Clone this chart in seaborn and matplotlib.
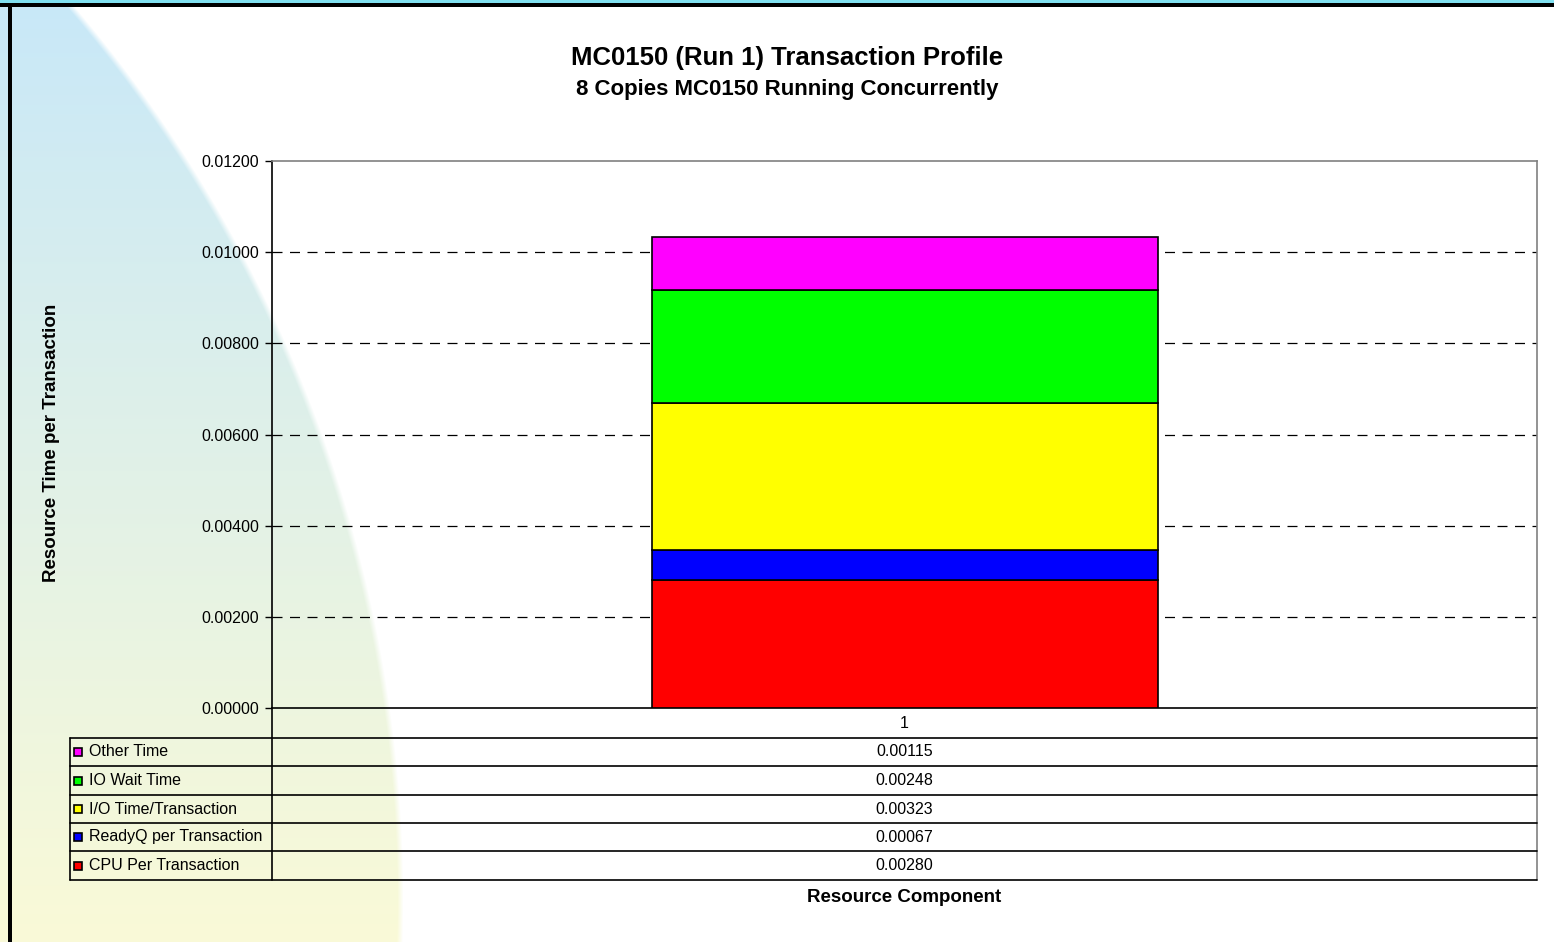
import numpy as np
import pandas as pd
import matplotlib
matplotlib.use("Agg")
import matplotlib.pyplot as plt
from matplotlib.lines import Line2D
from matplotlib.patches import Rectangle
import seaborn as sns

# Data (stack order bottom -> top)
components = ["CPU Per Transaction", "ReadyQ per Transaction", "I/O Time/Transaction",
              "IO Wait Time", "Other Time"]
values = [0.00280, 0.00067, 0.00323, 0.00248, 0.00115]
colors = ["#FF0000", "#0000FF", "#FFFF00", "#00FF00", "#FF00FF"]
category = ["1"]
yticks = [0.0, 0.002, 0.004, 0.006, 0.008, 0.010, 0.012]

W, H = 1554, 942
sns.set_style("white")
plt.rcParams["font.family"] = ["Liberation Sans", "DejaVu Sans"]
plt.rcParams["text.color"] = "black"
plt.rcParams["ytick.color"] = "black"
plt.rcParams["xtick.color"] = "black"

fig = plt.figure(figsize=(W / 100, H / 100), dpi=100)


def fx(x):
    return x / W


def fy(y):
    return 1 - y / H


# background: big soft circle, blue at top fading to pale yellow
bg = fig.add_axes([0, 0, 1, 1], zorder=-10)
yy, xx = np.mgrid[0:H, 0:W]
t = (yy / H)[..., None]
top = np.array([200, 232, 248]) / 255
bot = np.array([250, 250, 215]) / 255
grad = top * (1 - t) + bot * t
dist = np.sqrt((xx + 976) ** 2 + (yy - 900) ** 2)
inside = np.clip((1376 - dist) / 6 + 0.5, 0, 1)[..., None]
img = grad * inside + 1 * (1 - inside)
img[0:3, :] = np.array([128, 224, 240]) / 255
img[3:7, :] = 0
img[3:, 8:12] = 0
bg.imshow(img, aspect="auto", interpolation="bilinear")
bg.axis("off")

# main plot
ax = fig.add_axes([fx(272), fy(708), fx(1537) - fx(272), fy(161) - fy(708)])
ax.patch.set_alpha(0)

bottom = 0.0
for name, val, col in zip(components, values, colors):
    sns.barplot(x=category, y=[val], bottom=bottom, color=col, saturation=1,
                width=0.4, edgecolor="black", linewidth=1.2, ax=ax, zorder=3)
    bottom += val

ax.set_ylim(0, 0.012)
ax.set_xlim(-0.5, 0.5)
ax.set_yticks(yticks)
ax.set_yticklabels([f"{v:.5f}" for v in yticks], fontsize=11.5)
ax.tick_params(axis="y", direction="out", length=5, width=1, color="black", pad=4, left=True)
ax.set_xticks([])
ax.set_xlabel("")
ax.set_ylabel("")
for v in yticks[1:-1]:
    ax.axhline(v, color="black", linewidth=0.9, linestyle=(0, (8, 6)), zorder=1)
for s in ["left", "bottom"]:
    ax.spines[s].set_color("black")
    ax.spines[s].set_linewidth(1.2)
for s in ["top", "right"]:
    ax.spines[s].set_color("#808080")
    ax.spines[s].set_linewidth(1.2)

# titles
fig.text(fx(787), fy(58), "MC0150 (Run 1) Transaction Profile", ha="center", va="center",
         fontsize=18.5, fontweight="bold")
fig.text(fx(787), fy(90), "8 Copies MC0150 Running Concurrently", ha="center", va="center",
         fontsize=16, fontweight="bold")
fig.text(fx(52), fy(443), "Resource Time per Transaction", ha="center", va="center",
         rotation=90, fontsize=13.5, fontweight="bold")
fig.text(fx(904), fy(897), "Resource Component", ha="center", va="center",
         fontsize=13.5, fontweight="bold")

# data table under the axis
def hline(y, x0, x1, col="black"):
    fig.add_artist(Line2D([fx(x0), fx(x1)], [fy(y), fy(y)], color=col, linewidth=1.2))


def vline(x, y0, y1, col="black"):
    fig.add_artist(Line2D([fx(x), fx(x)], [fy(y0), fy(y1)], color=col, linewidth=1.2))


row_lines = [738, 766, 795, 823, 851, 880]
vline(272, 708, 880)
vline(70, 738, 880)
vline(1537, 708, 880, col="#808080")
hline(738, 70, 1537)
for y in row_lines[1:]:
    hline(y, 70, 1537)

fig.text(fx(904.5), fy(723), category[0], ha="center", va="center", fontsize=11.5)
rows = list(zip(components, values, colors))[::-1]
for i, (name, val, col) in enumerate(rows):
    yc = (row_lines[i] + row_lines[i + 1]) / 2
    fig.add_artist(Rectangle((fx(74), fy(yc + 4)), 8 / W, 8 / H, facecolor=col,
                             edgecolor="black", linewidth=1.2))
    fig.text(fx(89), fy(yc), name, ha="left", va="center", fontsize=11.5)
    fig.text(fx(904.5), fy(yc), f"{val:.5f}", ha="center", va="center", fontsize=11.5)

fig.savefig("out.png", dpi=100)
